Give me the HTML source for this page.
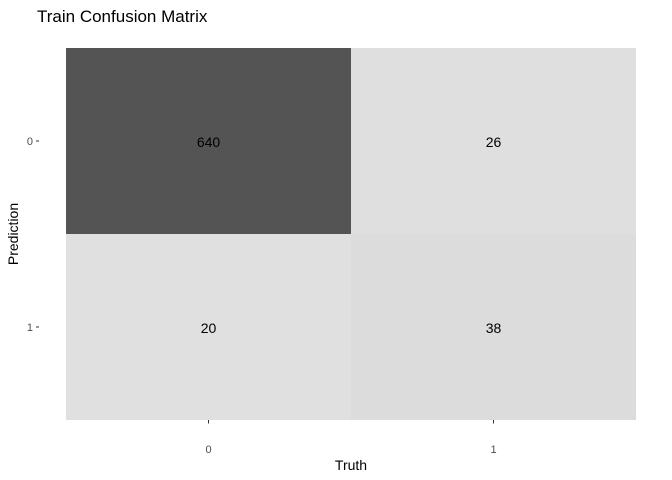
<!DOCTYPE html>
<html><head><meta charset="utf-8"><style>body{margin:0;background:#fff}svg{display:block;font-family:"Liberation Sans",sans-serif}</style></head>
<body>
<svg id="c" width="672" height="480">
<text x="37" y="22" font-size="17" fill="#000">Train Confusion Matrix</text>
<g id="cells"></g>
<text x="351" y="470" font-size="14" text-anchor="middle">Truth</text>
<text transform="translate(18,234) rotate(-90)" font-size="14" text-anchor="middle">Prediction</text>
</svg>
<script>
const truthCats = ["0","1"];
const predCats = ["0","1"];
const counts = [[640,26],[20,38]]; // counts[pred][truth]
const svg=document.getElementById('c'), g=document.getElementById('cells');
const NS="http://www.w3.org/2000/svg";
const L=66,R=636,T=48,B=420;
const cw=(R-L)/truthCats.length, ch=(B-T)/predCats.length;
const xc=i=>L+cw*i, yc=j=>T+ch*j;
const flat=counts.flat(), mn=Math.min(...flat), mx=Math.max(...flat);
const shade=v=>{const l=Math.round(224-(v-mn)/(mx-mn||1)*(224-84));return `rgb(${l},${l},${l})`;};
function mk(t,a){const e=document.createElementNS(NS,t);for(const k in a)e.setAttribute(k,a[k]);return e;}
predCats.forEach((p,j)=>{truthCats.forEach((t,i)=>{
  const v=counts[j][i];
  const r=mk('rect',{x:xc(i),y:yc(j),width:cw,height:ch,fill:shade(v)});
  
  
  g.appendChild(r);
  const tx=mk('text',{x:xc(i)+cw/2,y:yc(j)+ch/2+6,'font-size':14,'text-anchor':'middle',fill:'#000'});
  tx.textContent=v;
  
  
  g.appendChild(tx);
});});
truthCats.forEach((t,i)=>{
  const x=xc(i)+cw/2;
  const tk=mk('line',{x1:x,x2:x,y1:B,y2:B+3.5,stroke:'#333','stroke-width':1});
  
  
  svg.appendChild(tk);
  const lb=mk('text',{x:x,y:B+33,'font-size':11,'text-anchor':'middle',fill:'#4d4d4d'});
  lb.textContent=t;
  
  
  svg.appendChild(lb);
});
predCats.forEach((p,j)=>{
  const y=yc(j)+ch/2;
  const tk=mk('line',{x1:L-30,x2:L-27,y1:y,y2:y,stroke:'#333','stroke-width':1});
  
  
  svg.appendChild(tk);
  const lb=mk('text',{x:L-33,y:y+4,'font-size':11,'text-anchor':'end',fill:'#4d4d4d'});
  lb.textContent=p;
  
  
  svg.appendChild(lb);
});
</script>
</body></html>
